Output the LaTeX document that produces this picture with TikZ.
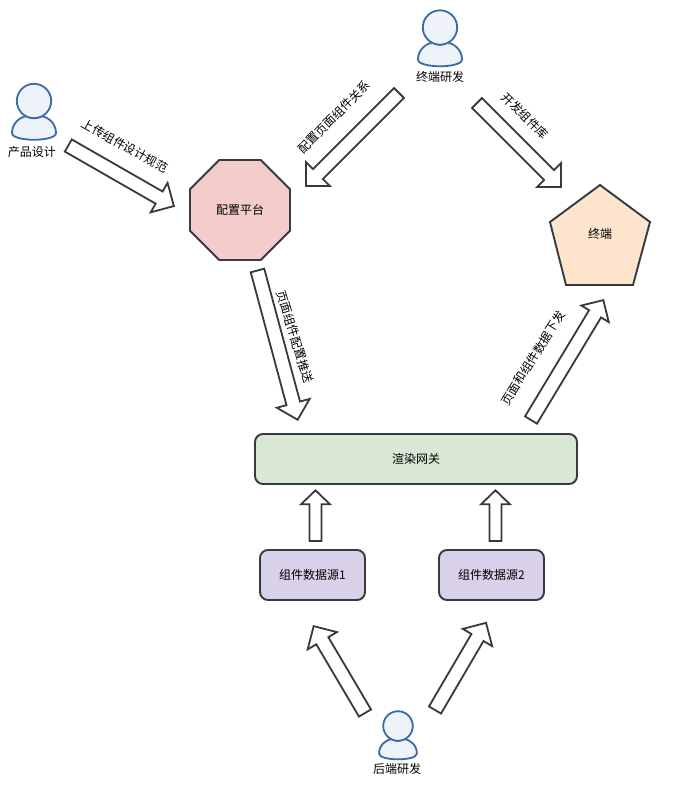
\documentclass[tikz,border=0pt]{standalone}
\usepackage{fontspec}
\setmainfont{Noto Sans CJK SC}
\usetikzlibrary{calc,shapes.geometric}
\definecolor{edge}{HTML}{36393D}
\definecolor{pblue}{HTML}{3A6BA5}
\definecolor{pfill}{HTML}{EEF2F9}
\definecolor{cred}{HTML}{F4CCCC}
\definecolor{corange}{HTML}{FDE4CC}
\definecolor{cgreen}{HTML}{D8E8D3}
\definecolor{cpurple}{HTML}{D9D0E9}
% \blockarrow{name}{tail}{tip}{shaft half width}{head half width}{head length}
\newcommand{\blockarrow}[6]{%
  \coordinate (#1-tail) at #2;
  \coordinate (#1-tip0) at #3;
  \path let \p1=($(#1-tip0)-(#1-tail)$), \n1={atan2(\y1,\x1)} in
    coordinate (#1-tip) at ($(#1-tip0)+(\n1+180:1.3pt)$)
    coordinate (#1-a) at ($(#1-tail)+(\n1+90:#4pt)$)
    coordinate (#1-b) at ($(#1-tail)+(\n1-90:#4pt)$)
    coordinate (#1-m) at ($(#1-tip)+(\n1+180:#6pt)$)
    coordinate (#1-c) at ($(#1-m)+(\n1+90:#4pt)$)
    coordinate (#1-d) at ($(#1-m)+(\n1-90:#4pt)$)
    coordinate (#1-e) at ($(#1-m)+(\n1+90:#5pt)$)
    coordinate (#1-f) at ($(#1-m)+(\n1-90:#5pt)$);
  \draw[blockline] (#1-a) -- (#1-c) -- (#1-e) -- (#1-tip) -- (#1-f) -- (#1-d) -- (#1-b) -- cycle;
}
\tikzset{
  blockline/.style={draw=edge,fill=white,line width=1.8pt,miter limit=10},
  box/.style={draw=edge,line width=1.9pt,rounded corners=8pt,inner sep=0pt,font=\fontsize{12}{14}\selectfont},
  lbl/.style={inner sep=0pt,font=\fontsize{12}{14}\selectfont,text=black},
  slbl/.style={inner sep=0pt,font=\fontsize{12}{14}\selectfont,text=black},
  personline/.style={draw=pblue,fill=pfill,line width=1.8pt},
  pics/person/.style={code={
    \path[personline] (-22,32) .. controls (-22,22) and (-14,16) .. (-7,15)
       .. controls (-3,18) and (3,18) .. (7,15)
       .. controls (14,16) and (22,22) .. (22,32)
       .. controls (22,41) and (-22,41) .. (-22,32) -- cycle;
    \path[personline] (0,0) circle (17.2);
  }},
}
\begin{document}
\begin{tikzpicture}[x=1pt,y=-1pt]
\useasboundingbox (0,0) rectangle (676,796);
\fill[white] (0,0) rectangle (676,796);

% people
\pic (p1) at (34,101) {person};
\pic (p2) at (440,27.5) {person};
\pic[scale=.86] (p3) at (398,726) {person};
\node[lbl] (t1) at (32,152) {产品设计};
\node[lbl] (t2) at (440,77) {终端研发};
\node[lbl] (t3) at (397,769) {后端研发};

% main shapes
\node[regular polygon,regular polygon sides=8,minimum size=108.2pt,draw=edge,fill=cred,line width=1.9pt,inner sep=0pt] (cfg) at (240,210) {};
\node[lbl] (cfgt) at (240,210) {配置平台};
\draw[draw=edge,fill=corange,line width=1.9pt] (600,185) -- (650,222) -- (633,285) -- (566,285) -- (550,222) -- cycle;
\node[lbl] (term) at (600,234) {终端};
\node[box,fill=cgreen,minimum width=322pt,minimum height=50pt] (gw) at (416,459) {渲染网关};
\node[box,fill=cpurple,minimum width=105pt,minimum height=50pt] (s1) at (312.5,575) {组件数据源1};
\node[box,fill=cpurple,minimum width=105pt,minimum height=50pt] (s2) at (491.5,575) {组件数据源2};

% block arrows
\blockarrow{a1}{(68.3,145.5)}{(175,206.7)}{7}{17}{17}
\blockarrow{a2}{(399,93)}{(305,187)}{7}{17}{17}
\blockarrow{a3}{(477,103)}{(562,188)}{7}{17}{17}
\blockarrow{a4}{(257.5,270.5)}{(298,421)}{7}{17}{17}
\blockarrow{a5}{(531,420)}{(604,299)}{7}{16}{16}
\blockarrow{a6}{(315.5,541)}{(315.5,489)}{6}{14.5}{14}
\blockarrow{a7}{(495.5,541)}{(495.5,489)}{6}{14.5}{14}
\blockarrow{a8}{(365,713)}{(313,625)}{7}{17}{17}
\blockarrow{a9}{(435,710)}{(486.7,621.7)}{7}{17}{17}

% arrow labels
\node[slbl,rotate=-29] (l1) at (125,146) {上传组件设计规范};
\node[slbl,rotate=45] (l2) at (334,117) {配置页面组件关系};
\node[slbl,rotate=-45] (l3) at (525,116) {开发组件库};
\node[slbl,rotate=-73] (l4) at (295,337) {页面组件配置推送};
\node[slbl,rotate=58] (l5) at (533,358) {页面和组件数据下发};
\end{tikzpicture}
\end{document}
